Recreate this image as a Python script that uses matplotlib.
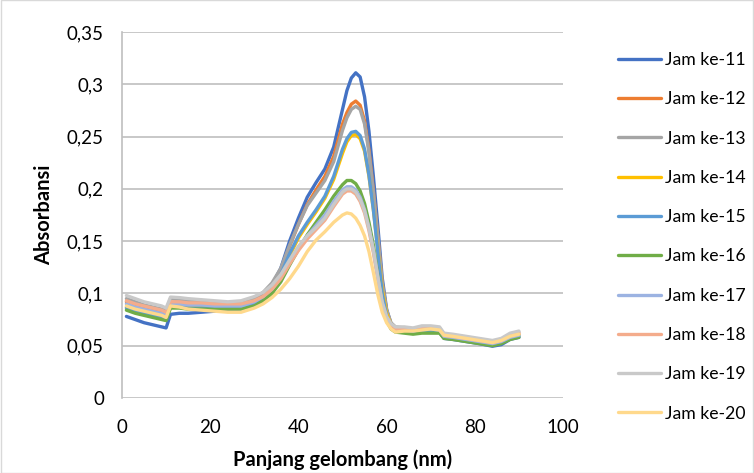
import matplotlib
matplotlib.use("Agg")
import matplotlib.pyplot as plt
from matplotlib.patches import Rectangle
from matplotlib.ticker import FuncFormatter

plt.rcParams['font.family'] = ['Lato', 'DejaVu Sans']

# panjang gelombang (nm) sampled from the figure
x = [1, 3, 5, 7, 9, 10, 11, 13, 15, 18, 21, 24,
     27, 30, 32, 34, 36, 38, 40, 42, 44, 46, 48, 50,
     51, 52, 53, 54, 55, 56, 57, 58, 59, 60, 61, 62,
     64, 66, 68, 70, 72, 73, 75, 78, 81, 84, 86, 88, 90]

jam11 = [.078, .075, .072, .070, .068, .067, .080, .081, .081, .082, .083, .084,
         .085, .090, .097, .108, .124, .150, .172, .192, .206, .219, .240, .276,
         .294, .306, .311, .307, .288, .255, .212, .165, .115, .085, .071, .066,
         .063, .062, .064, .064, .063, .057, .056, .054, .052, .0495, .051, .056, .058]
jam12 = [.092, .089, .086, .084, .082, .080, .091, .091, .090, .090, .089, .089,
         .089, .094, .099, .108, .122, .145, .166, .185, .199, .212, .231, .262,
         .273, .281, .284, .280, .265, .237, .198, .155, .110, .083, .071, .067,
         .066, .065, .067, .067, .066, .060, .059, .057, .055, .052, .054, .059, .061]
jam13 = [.095, .092, .089, .087, .085, .084, .095, .094, .093, .093, .092, .091,
         .091, .096, .101, .110, .124, .146, .166, .184, .196, .208, .226, .256,
         .268, .276, .279, .276, .262, .235, .197, .154, .110, .084, .072, .068,
         .067, .066, .068, .068, .067, .061, .060, .058, .056, .054, .056, .061, .063]
jam14 = [.087, .084, .082, .080, .078, .076, .088, .088, .087, .087, .086, .086,
         .087, .091, .096, .104, .117, .136, .153, .166, .178, .191, .209, .234,
         .245, .251, .252, .248, .236, .212, .180, .142, .104, .081, .070, .067,
         .065, .064, .066, .066, .065, .059, .058, .056, .054, .052, .054, .058, .060]
jam15 = [.086, .083, .081, .079, .077, .075, .087, .087, .086, .086, .086, .086,
         .087, .091, .096, .105, .118, .138, .155, .168, .180, .193, .212, .238,
         .248, .254, .255, .251, .238, .213, .180, .140, .100, .078, .068, .064,
         .063, .062, .064, .064, .063, .058, .057, .055, .053, .051, .053, .057, .059]
jam16 = [.084, .081, .079, .077, .075, .074, .086, .086, .085, .085, .085, .085,
         .085, .088, .093, .100, .111, .127, .142, .156, .168, .180, .193, .204,
         .208, .208, .205, .198, .186, .168, .146, .118, .090, .074, .066, .063,
         .062, .061, .062, .062, .062, .057, .056, .054, .052, .050, .052, .056, .058]
jam17 = [.090, .087, .085, .083, .081, .079, .090, .090, .089, .089, .088, .088,
         .088, .092, .097, .104, .115, .130, .144, .155, .165, .175, .188, .199,
         .202, .202, .199, .192, .180, .163, .142, .116, .090, .075, .068, .065,
         .065, .064, .066, .066, .065, .059, .058, .056, .054, .052, .054, .058, .060]
jam18 = [.093, .090, .088, .086, .084, .082, .092, .092, .091, .091, .090, .090,
         .090, .093, .097, .104, .114, .128, .141, .152, .161, .170, .183, .195,
         .198, .198, .195, .188, .177, .160, .139, .114, .090, .076, .069, .066,
         .066, .065, .067, .067, .066, .060, .059, .057, .055, .053, .055, .060, .062]
jam19 = [.098, .095, .092, .090, .088, .086, .0965, .096, .095, .094, .093, .092,
         .093, .097, .101, .108, .118, .132, .145, .155, .163, .172, .185, .197,
         .200, .200, .197, .190, .179, .162, .141, .116, .092, .078, .071, .068,
         .068, .067, .069, .069, .068, .062, .061, .059, .057, .055, .057, .062, .064]
jam20 = [.088, .085, .083, .081, .079, .077, .088, .087, .085, .084, .083, .082,
         .082, .086, .090, .096, .104, .114, .126, .140, .151, .159, .168, .175,
         .177, .176, .172, .165, .155, .140, .120, .099, .082, .072, .066, .063,
         .064, .064, .065, .066, .065, .060, .059, .057, .055, .053, .055, .059, .061]

labels = ["Jam ke-11", "Jam ke-12", "Jam ke-13", "Jam ke-14", "Jam ke-15",
          "Jam ke-16", "Jam ke-17", "Jam ke-18", "Jam ke-19", "Jam ke-20"]
series = [jam11, jam12, jam13, jam14, jam15, jam16, jam17, jam18, jam19, jam20]
colors = ["#4472C4", "#ED7D31", "#A5A5A5", "#FFC000", "#5B9BD5",
          "#70AD47", "#9CB3E2", "#F4AC8C", "#C9C9C9", "#FFD98C"]

fig = plt.figure(figsize=(7.54, 4.73), dpi=100)
ax = fig.add_axes([0.1618, 0.1586, 0.5849, 0.7737])

for y, lab, c in zip(series, labels, colors):
    ax.plot(x, y, color=c, lw=2.4, label=lab, solid_capstyle='round')

ax.set_xlim(0, 100)
ax.set_ylim(0, 0.35)
ax.set_xticks(range(0, 101, 20))
ax.set_yticks([i * 0.05 for i in range(8)])
ax.yaxis.set_major_formatter(FuncFormatter(
    lambda v, _: ("%.2f" % v).rstrip('0').rstrip('.').replace('.', ',') if v > 1e-9 else "0"))
ax.grid(axis='y', color='#BFBFBF', lw=1.2)
ax.set_axisbelow(True)
for s in ['top', 'right', 'bottom']:
    ax.spines[s].set_visible(False)
ax.spines['left'].set_color('#BFBFBF')
ax.spines['left'].set_linewidth(1.2)
ax.tick_params(length=0, labelsize=13.5, colors='black')
ax.tick_params(axis='x', pad=15)
ax.tick_params(axis='y', pad=13)

ax.set_xlabel("Panjang gelombang (nm)", fontsize=14.5, fontweight='bold', labelpad=10)
ax.set_ylabel("Absorbansi", fontsize=14.5, fontweight='bold', labelpad=9)

fig.legend(loc='upper left', bbox_to_anchor=(0.81, 0.905), frameon=False,
           fontsize=12.7, handlelength=2.45, handletextpad=0.2, labelspacing=1.32,
           borderaxespad=0)

fig.patches.append(Rectangle((0.001, 0.001), 0.998, 0.998, transform=fig.transFigure,
                             fill=False, edgecolor='#D9D9D9', lw=1))

fig.savefig("out.png", dpi=100)
